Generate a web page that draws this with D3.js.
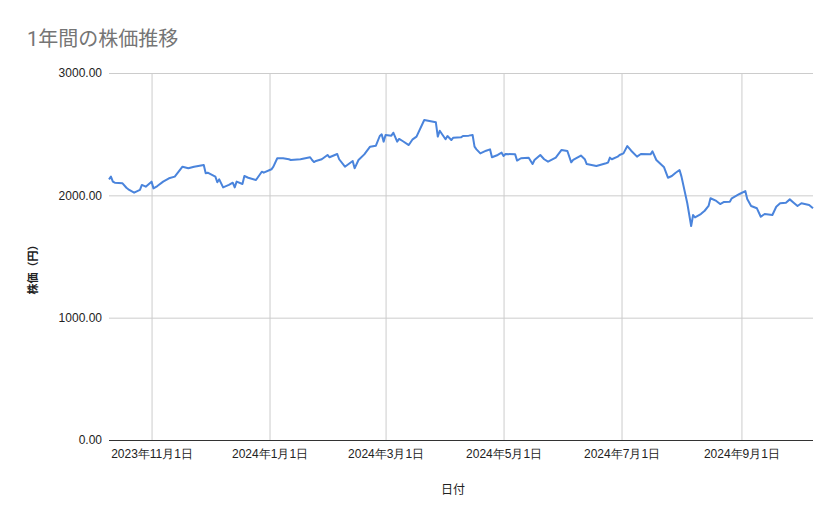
<!DOCTYPE html>
<html>
<head>
<meta charset="utf-8">
<script src="https://cdn.jsdelivr.net/npm/d3@7"></script>
<style>
  body { margin: 0; background: #fff; }
  svg { font-family: Roboto, "Noto Sans CJK JP", sans-serif; }
</style>
</head>
<body>
<script>
var w = 839;
var h = 519;

// 日付と終値
var dates = [
  "2023-10-10","2023-10-11","2023-10-12","2023-10-13","2023-10-17","2023-10-19","2023-10-20","2023-10-23",
  "2023-10-26","2023-10-27","2023-10-29","2023-11-01","2023-11-02","2023-11-04","2023-11-07","2023-11-10",
  "2023-11-13","2023-11-15","2023-11-17","2023-11-20","2023-11-23","2023-11-28","2023-11-29","2023-11-30",
  "2023-12-04","2023-12-05","2023-12-06","2023-12-08","2023-12-11","2023-12-13","2023-12-14","2023-12-15",
  "2023-12-18","2023-12-19","2023-12-21","2023-12-25","2023-12-28","2023-12-29","2024-01-02","2024-01-03",
  "2024-01-05","2024-01-08","2024-01-11","2024-01-12","2024-01-17","2024-01-22","2024-01-23","2024-01-24",
  "2024-01-25","2024-01-28","2024-01-31","2024-02-01","2024-02-05","2024-02-06","2024-02-09","2024-02-13",
  "2024-02-14","2024-02-16","2024-02-19","2024-02-22","2024-02-25","2024-02-27","2024-02-28","2024-02-29",
  "2024-03-01","2024-03-04","2024-03-05","2024-03-07","2024-03-08","2024-03-10","2024-03-13","2024-03-15",
  "2024-03-17","2024-03-21","2024-03-27","2024-03-28","2024-03-29","2024-04-01","2024-04-02","2024-04-04",
  "2024-04-05","2024-04-09","2024-04-10","2024-04-13","2024-04-15","2024-04-16","2024-04-17","2024-04-19",
  "2024-04-22","2024-04-24","2024-04-25","2024-04-28","2024-04-30","2024-05-01","2024-05-02","2024-05-07",
  "2024-05-08","2024-05-10","2024-05-14","2024-05-16","2024-05-17","2024-05-20","2024-05-22","2024-05-24",
  "2024-05-28","2024-05-31","2024-06-03","2024-06-05","2024-06-06","2024-06-10","2024-06-12","2024-06-13",
  "2024-06-18","2024-06-23","2024-06-24","2024-06-25","2024-06-26","2024-06-29","2024-06-30","2024-07-02",
  "2024-07-04","2024-07-06","2024-07-09","2024-07-11","2024-07-16","2024-07-17","2024-07-19","2024-07-23",
  "2024-07-25","2024-07-27","2024-07-29","2024-07-31","2024-08-01","2024-08-04","2024-08-06","2024-08-07",
  "2024-08-08","2024-08-11","2024-08-13","2024-08-15","2024-08-16","2024-08-19","2024-08-21","2024-08-23",
  "2024-08-26","2024-08-27","2024-08-31","2024-09-03","2024-09-04","2024-09-06","2024-09-09","2024-09-11",
  "2024-09-13","2024-09-17","2024-09-19","2024-09-21","2024-09-24","2024-09-26","2024-09-28","2024-09-30",
  "2024-10-02","2024-10-06","2024-10-08"
];
var prices = [
  2131,2153,2112,2103,2098,2062,2049,2022,
  2044,2085,2071,2112,2057,2076,2112,2139,
  2153,2193,2234,2221,2234,2248,2180,2185,
  2153,2107,2131,2065,2085,2103,2065,2112,
  2093,2158,2144,2125,2193,2185,2213,2234,
  2303,2303,2295,2289,2295,2311,2289,2272,
  2281,2295,2330,2311,2338,2295,2234,2281,
  2221,2289,2335,2398,2406,2485,2499,2439,
  2493,2488,2512,2439,2461,2442,2411,2458,
  2480,2616,2597,2480,2528,2458,2485,2452,
  2471,2474,2485,2488,2493,2398,2376,2343,
  2365,2376,2311,2330,2349,2322,2338,2335,
  2284,2303,2308,2256,2289,2330,2295,2275,
  2308,2371,2362,2270,2289,2325,2295,2256,
  2240,2262,2267,2308,2295,2316,2330,2343,
  2403,2365,2316,2338,2335,2360,2289,2229,
  2144,2158,2185,2207,2153,1935,1749,1839,
  1820,1847,1874,1913,1976,1954,1929,1946,
  1948,1976,2011,2035,1970,1913,1894,1825,
  1847,1839,1907,1935,1940,1967,1940,1913,
  1935,1921,1894
];
var xTicks = ["2023-11-01","2024-01-01","2024-03-01","2024-05-01","2024-07-01","2024-09-01"];
var yTicks = [0, 1000, 2000, 3000];

var parse = d3.timeParse("%Y-%m-%d");
var data = dates.map(function (d, i) { return { date: parse(d), price: prices[i] }; });

var plotLeft = 109, plotRight = 813, plotTop = 73, plotBottom = 440;

var x = d3.scaleTime()
    .domain(d3.extent(data, function (d) { return d.date; }))
    .range([plotLeft, plotRight]);
var y = d3.scaleLinear().domain([0, 3000]).range([plotBottom, plotTop]);

var svg = d3.select("body").append("svg").attr("width", w).attr("height", h);

svg.append("text")
    .attr("x", 27)
    .attr("y", 46)
    .style("font-size", "20px")
    .style("fill", "#757575")
    .text("1年間の株価推移");

// 縦グリッド
var xAxis = d3.axisBottom(x)
    .tickValues(xTicks.map(parse))
    .tickSize(-(plotBottom - plotTop))
    .tickFormat(d3.timeFormat("%Y年%-m月%-d日"));

var gx = svg.append("g").attr("transform", "translate(0," + plotBottom + ")").call(xAxis);
gx.select(".domain").remove();
gx.selectAll(".tick line").attr("stroke", "#cccccc");
gx.selectAll(".tick text")
    .attr("y", 9)
    .style("font-size", "12px")
    .style("fill", "#222");

// 横グリッド
var yAxis = d3.axisLeft(y)
    .tickValues(yTicks)
    .tickSize(-(plotRight - plotLeft))
    .tickPadding(7)
    .tickFormat(d3.format(".2f"));

var gy = svg.append("g").attr("transform", "translate(" + plotLeft + ",0)").call(yAxis);
gy.select(".domain").remove();
gy.selectAll(".tick line").attr("stroke", function (d) { return d === 0 ? "#333" : "#cccccc"; });
gy.selectAll(".tick text")
    .style("font-size", "12px")
    .style("fill", "#222");

var line = d3.line()
    .x(function (d) { return x(d.date); })
    .y(function (d) { return y(d.price); });

svg.append("path")
    .datum(data)
    .attr("d", line)
    .style("fill", "none")
    .style("stroke", "#4a84dc")
    .style("stroke-width", 2)
    .style("stroke-linejoin", "round");

svg.append("text")
    .attr("x", 453)
    .attr("y", 494)
    .attr("text-anchor", "middle")
    .style("font-size", "12px")
    .style("fill", "#222")
    .text("日付");

svg.append("text")
    .attr("transform", "translate(37,267) rotate(-90)")
    .attr("text-anchor", "middle")
    .style("font-size", "11px")
    .style("font-weight", "bold")
    .style("fill", "#222")
    .text("株価（円）");
</script>
</body>
</html>
